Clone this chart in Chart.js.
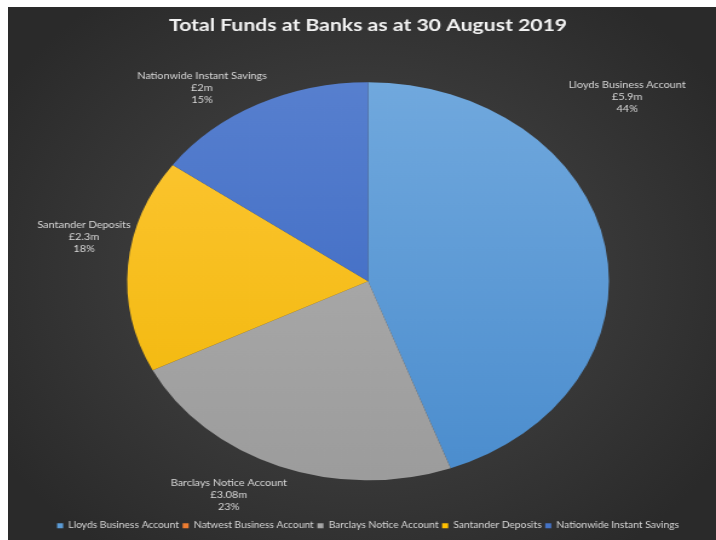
<!DOCTYPE html>
<html><head><meta charset="utf-8">
<script src="https://cdn.jsdelivr.net/npm/chart.js@4/dist/chart.umd.min.js"></script>
<style>
html,body{margin:0;padding:0;background:#ffffff;}
#bg{position:absolute;left:8px;top:7px;width:708px;height:533px;overflow:hidden;
background:radial-gradient(ellipse 60% 65% at 50% 50%, #474747 0%, #3a3a3a 50%, #2a2a2a 100%);}
#wrap{position:absolute;left:0;top:0;width:585px;height:533px;transform:scaleX(1.2103);transform-origin:0 0;}
canvas{display:block;}
</style></head><body>
<div id="bg"><div id="wrap"><canvas id="c"></canvas></div></div>
<script>
// ---- data ----
const categories = ['Lloyds Business Account', 'Natwest Business Account', 'Barclays Notice Account', 'Santander Deposits', 'Nationwide Instant Savings'];
const fundsMillions = [5.9, 0, 3.08, 2.3, 2];
const percentLabels = ['44%', '0%', '23%', '18%', '15%'];
const titleText = 'Total Funds at Banks as at 30 August 2019';

// ---- styles ----
const solidColors = ['#5b9bd5', '#ed7d31', '#a5a5a5', '#ffc000', '#4472c4'];
const gradColors = [['#74abdf', '#478acc'], ['#f08a45', '#e07020'], ['#b3b3b3', '#9a9a9a'], ['#ffc93c', '#efb400'], ['#5a82d0', '#3462bf']];
const labelAngleAdjustDeg = [-30.7, 0, 6.6, 6.0, -8.3];
const labelRadiusFactor = [1.42, 1.2, 1.22, 1.20, 1.19];
const FONT = "Lato, 'Open Sans', sans-serif";

const outsideLabels = {
  id: 'outsideLabels',
  afterDatasetsDraw(chart) {
    const ctx = chart.ctx;
    const meta = chart.getDatasetMeta(0);
    ctx.save();
    ctx.fillStyle = '#d9d9d9';
    ctx.font = '9px ' + FONT;
    ctx.textAlign = 'center';
    ctx.textBaseline = 'middle';
    meta.data.forEach((arc, i) => {
      const v = fundsMillions[i];
      if (!v) return;
      const p = arc.getProps(['x', 'y', 'startAngle', 'endAngle', 'outerRadius'], true);
      const a = (p.startAngle + p.endAngle) / 2 + labelAngleAdjustDeg[i] * Math.PI / 180;
      const r = p.outerRadius * labelRadiusFactor[i];
      const cx = p.x + Math.cos(a) * r;
      const cy = p.y + Math.sin(a) * r;
      const lines = [categories[i], '£' + v + 'm', percentLabels[i]];
      lines.forEach((t, k) => ctx.fillText(t, cx, cy + (k - 1) * 12));
    });
    ctx.restore();
  }
};

new Chart(document.getElementById('c'), {
  type: 'pie',
  data: {
    labels: categories,
    datasets: [{
      data: fundsMillions,
      borderWidth: 0,
      radius: 199,
      backgroundColor: (c) => {
        const col = gradColors[c.dataIndex];
        const a = c.chart.chartArea;
        if (!a) return solidColors[c.dataIndex];
        const g = c.chart.ctx.createLinearGradient(0, a.top, 0, a.bottom);
        g.addColorStop(0, col[0]);
        g.addColorStop(1, col[1]);
        return g;
      }
    }]
  },
  options: {
    responsive: true,
    maintainAspectRatio: false,
    animation: false,
    layout: { padding: { left: 10, right: 0, top: 0, bottom: 0 } },
    plugins: {
      tooltip: { enabled: false },
      title: {
        display: true,
        text: titleText,
        color: '#f2f2f2',
        font: { family: FONT, size: 17.5, weight: 'bold' },
        padding: { top: 8, bottom: 8 }
      },
      legend: {
        position: 'bottom',
        labels: {
          color: '#d9d9d9',
          font: { family: FONT, size: 8.5 },
          boxWidth: 5,
          boxHeight: 5,
          padding: 3,
          generateLabels: (chart) => categories.map((t, i) => ({
            text: t, fillStyle: solidColors[i], strokeStyle: solidColors[i], lineWidth: 0, hidden: false, index: i, fontColor: '#d9d9d9'
          }))
        }
      }
    }
  },
  plugins: [outsideLabels]
});
</script>
</body></html>
